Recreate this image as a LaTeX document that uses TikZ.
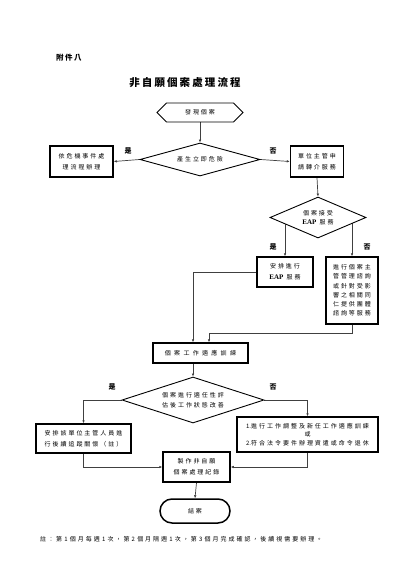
\documentclass[tikz,border=0pt]{standalone}
\usepackage{fontspec}
\setmainfont{Liberation Serif}
\newfontfamily\cjk[LetterSpace=33]{Noto Sans CJK TC}
\newfontfamily\cjkw[LetterSpace=55]{Noto Sans CJK TC}
\newfontfamily\cjkt[LetterSpace=20]{Noto Sans CJK TC}
\usetikzlibrary{shapes.geometric,shapes.symbols,shapes.misc,arrows.meta,backgrounds}
\newcommand{\eapw}{{\rmfamily\bfseries\fontsize{7}{9}\selectfont EAP}}
\newcommand{\nosp}[1]{{\addfontfeature{LetterSpace=0}#1}}
\begin{document}
\begin{tikzpicture}[x=1pt,y=-1pt,
  txt/.style={font=\cjk\fontsize{6}{11}\selectfont, align=center, inner sep=0pt},
  box/.style={txt, draw, line width=1.5pt, fill=white},
  dia/.style={txt, draw, diamond, line width=0.9pt, fill=white},
  conn/.style={line width=0.7pt, draw=black!75, -{Latex[length=3pt,width=2.6pt]}},
  plain/.style={line width=0.7pt, draw=black!75},
  lab/.style={font=\cjkt\bfseries\fontsize{7}{8}\selectfont, inner sep=0pt}]
\useasboundingbox (0,0) rectangle (400,565);

\node[font=\cjkt\bfseries\fontsize{7.5}{9}\selectfont, anchor=west, inner sep=0pt] (att) at (56,58) {附件八};
\node[font=\cjkt\bfseries\fontsize{10.5}{12}\selectfont, inner sep=0pt] (title) at (185,83) {非自願個案處理流程};

\node[txt, draw, signal, signal to=west and east, signal pointer angle=90, line width=0.9pt, minimum width=86pt, minimum height=19pt] (start) at (200,112.5) {發現個案};
\node[dia, aspect=3.64, minimum width=120pt, minimum height=33pt] (d1) at (200,159.5) {產生立即危險};
\node[box, minimum width=63pt, minimum height=31pt] (crisis) at (81.5,161.5) {依危機事件處\\理流程辦理};
\node[box, minimum width=53pt, minimum height=31pt] (refer) at (317,161.5) {單位主管申\\請轉介服務};
\node[dia, aspect=2.34, minimum width=96pt, minimum height=41pt, font=\cjk\fontsize{6}{8.5}\selectfont] (d2) at (318,217.5) {個案接受\\\eapw{} 服務};
\node[box, minimum width=56pt, minimum height=30pt] (eap) at (285,272) {安排進行\\\eapw{} 服務};
\node[box, minimum width=52pt, minimum height=67pt, font=\cjk\fontsize{6}{9.2}\selectfont] (consult) at (352,290.5) {進行個案主\\管管理諮詢\\或針對受影\\響之相關同\\仁提供團體\\諮詢等服務};
\node[box, minimum width=95pt, minimum height=20pt, font=\cjkw\fontsize{6}{9}\selectfont] (train) at (200.5,353) {個案工作適應訓練};
\node[dia, aspect=3.09, minimum width=142pt, minimum height=46pt, font=\cjk\fontsize{6}{10}\selectfont] (d3) at (193,400) {個案進行適任性評\\估後工作狀態改善};
\node[box, minimum width=95pt, minimum height=29pt] (follow) at (83.5,438.5) {安排該單位主管人員進\\行後續追蹤關懷（註）};
\node[box, minimum width=141pt, minimum height=35pt, font=\cjk\fontsize{6}{8.5}\selectfont] (adjust) at (307.5,434.5) {\nosp{1.}進行工作調整及新任工作適應訓練\\或\\\nosp{2.}符合法令要件辦理資遣或命令退休};
\node[box, minimum width=67pt, minimum height=30pt] (record) at (196.5,467) {製作非自願\\個案處理紀錄};
\node[txt, draw, rounded rectangle, line width=1.5pt, minimum width=70pt, minimum height=24pt] (end) at (195,511) {結案};

\node[font=\cjk\fontsize{6}{8}\selectfont, anchor=west, inner sep=0pt] (note) at (40,539) {註：第\hspace{2.2pt}\nosp{1}\hspace{2.2pt}個月每週\hspace{2.2pt}\nosp{1}\hspace{2.2pt}次，第\hspace{2.2pt}\nosp{2}\hspace{2.2pt}個月隔週\hspace{2.2pt}\nosp{1}\hspace{2.2pt}次，第\hspace{2.2pt}\nosp{3}\hspace{2.2pt}個月完成確認，後續視需要辦理。};

\node[lab] (l1) at (128,151) {是};
\node[lab] (l2) at (273,151) {否};
\node[lab] (l3) at (273,247) {是};
\node[lab] (l4) at (367,247) {否};
\node[lab] (l5) at (112,387) {是};
\node[lab] (l6) at (273,387) {否};

\coordinate (j2) at (209,333);

\begin{pgfonlayer}{background}
\draw[conn] (start.south) -- (d1.north);
\draw[conn] (d1.west) -- (crisis.east);
\draw[conn] (d1.east) -- (refer.west);
\draw[conn] (refer.south) -- (d2.north);
\draw[conn] (eap.north |- d2.center) -- (eap.north);
\draw[conn] (consult.north |- d2.center) -- (consult.north);
\draw[conn] (eap.west) -| (train.north -| d3.north);
\draw[plain] (consult.south) |- (j2);
\draw[conn] (j2) -- (j2 |- train.north);
\draw[conn] (train.south -| d3.north) -- (d3.north);
\draw[conn] (d3.west) -| (follow.north);
\draw[conn] (d3.east) -| (adjust.north);
\draw[conn] (follow.south) |- (record.west);
\draw[conn] (adjust.south) |- (record.east);
\draw[conn] (record.south) -- (end.north);
\end{pgfonlayer}
\end{tikzpicture}
\end{document}
